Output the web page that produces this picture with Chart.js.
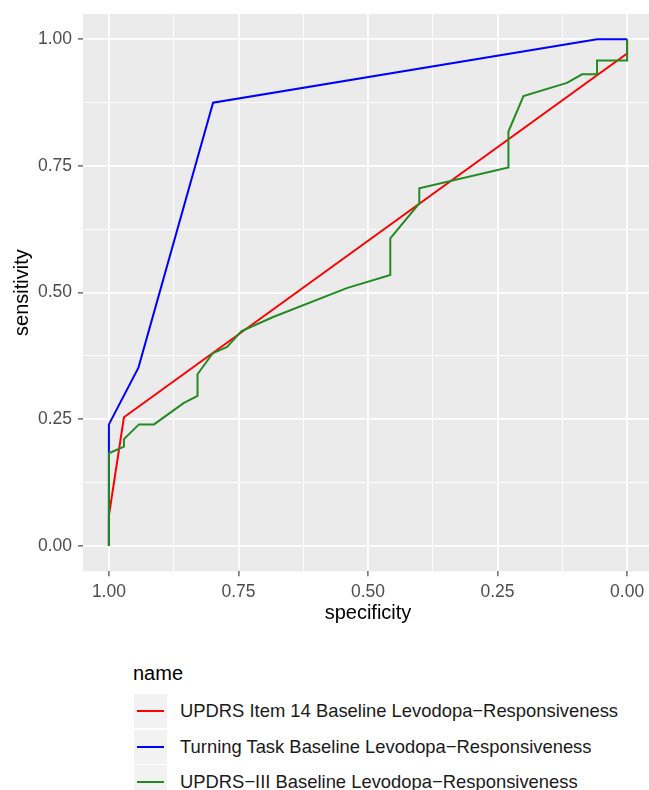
<!DOCTYPE html>
<html>
<head>
<meta charset="utf-8">
<script src="https://cdn.jsdelivr.net/npm/chart.js@4.4.1/dist/chart.umd.min.js"></script>
<style>
  html, body { margin: 0; padding: 0; background: #fff; overflow: hidden; }
  #wrap { position: relative; width: 649px; height: 790px; overflow: hidden; }
  #rocChart { position: absolute; left: 0; top: 0; }
  #legend { position: absolute; left: 0; top: 0; font-family: "Liberation Sans", Arial, sans-serif; }
  .lg-title { position: absolute; left: 133px; top: 661px; font-size: 20px; line-height: 24px; color: #000; }
  .lg-key { position: absolute; left: 134px; width: 33px; height: 34px; background: #f2f2f2; }
  .lg-key span { position: absolute; left: 3px; right: 3px; top: 16px; height: 2px; }
  .lg-text { position: absolute; left: 180px; font-size: 18.4px; line-height: 34px; color: #1a1a1a; white-space: nowrap; }
</style>
</head>
<body>
<div id="wrap">
  <canvas id="rocChart" width="653" height="640"></canvas>
  <div id="legend"></div>
</div>
<script>
// series names (legend order) and colours
const seriesNames = [
  'UPDRS Item 14 Baseline Levodopa\u2212Responsiveness',
  'Turning Task Baseline Levodopa\u2212Responsiveness',
  'UPDRS\u2212III Baseline Levodopa\u2212Responsiveness'
];
const seriesColors = ['#ff0000', '#0000ff', '#228b22'];

// ROC points: specificity / sensitivity
const item14Spec = [1, 1, 0.971, 0, 0];
const item14Sens = [0, 0.06, 0.254, 0.972, 1];

const turningSpec = [1, 1, 0.943, 0.799, 0.058, 0];
const turningSens = [0, 0.24, 0.352, 0.875, 1, 1];

const updrs3Spec = [1, 1, 0.971, 0.971, 0.942, 0.913, 0.856, 0.829, 0.829, 0.800, 0.772, 0.744, 0.683,
  0.541, 0.457, 0.457, 0.401, 0.401, 0.229, 0.229, 0.200, 0.116, 0.087, 0.058, 0.058, 0, 0];
const updrs3Sens = [0, 0.183, 0.196, 0.211, 0.240, 0.240, 0.282, 0.296, 0.339, 0.380, 0.393, 0.424, 0.452,
  0.509, 0.535, 0.607, 0.676, 0.706, 0.747, 0.818, 0.888, 0.914, 0.931, 0.931, 0.958, 0.958, 1];

// axis ticks
const majorTicks = [0, 0.25, 0.5, 0.75, 1];
const minorTicks = [0.125, 0.375, 0.625, 0.875];

function toPoints(xs, ys) {
  return xs.map((x, i) => ({ x: x, y: ys[i] }));
}

function ggTicks(scale) {
  const t = majorTicks.map(v => ({ value: v }))
    .concat(minorTicks.map(v => ({ value: v, minor: true })));
  t.sort((a, b) => a.value - b.value);
  scale.ticks = t;
}

const FONT = '"Liberation Sans", Arial, sans-serif';

// grey panel behind the grid
const panelBg = {
  id: 'panelBg',
  beforeDraw(chart) {
    const a = chart.chartArea;
    const c = chart.ctx;
    c.save();
    c.fillStyle = '#ebebeb';
    c.fillRect(a.left, a.top, a.right - a.left, a.bottom - a.top);
    c.restore();
  }
};

const gridOpts = {
  color: '#ffffff',
  lineWidth: c => (c.tick && c.tick.minor ? 0.9 : 1.8),
  tickColor: c => (c.tick && c.tick.minor ? 'rgba(0,0,0,0)' : '#333333'),
  tickWidth: 1.1,
  tickLength: 5
};

const ctx = document.getElementById('rocChart').getContext('2d');

const lines = [
  { data: toPoints(item14Spec, item14Sens), order: 2 },
  { data: toPoints(turningSpec, turningSens), order: 1 },
  { data: toPoints(updrs3Spec, updrs3Sens), order: 0 }
];

const chart = new Chart(ctx, {
  type: 'line',
  data: {
    datasets: lines.map((d, i) => ({
      label: seriesNames[i],
      data: d.data,
      order: d.order,
      borderColor: seriesColors[i],
      borderWidth: 2,
      tension: 0,
      fill: false,
      pointRadius: 0,
      pointHoverRadius: 0
    }))
  },
  options: {
    responsive: false,
    animation: false,
    devicePixelRatio: 1,
    layout: { padding: { top: 14, left: 0, right: 0, bottom: 0 } },
    plugins: { legend: { display: false }, tooltip: { enabled: false } },
    scales: {
      x: {
        type: 'linear',
        reverse: true,
        min: -0.05,
        max: 1.05,
        afterBuildTicks: ggTicks,
        afterFit: s => { s.height = 68.7; s.paddingLeft = 0; s.paddingRight = 0; },
        border: { display: false },
        grid: gridOpts,
        ticks: {
          padding: 5,
          maxRotation: 0,
          autoSkip: false,
          color: '#4d4d4d',
          font: { family: FONT, size: 17.5 },
          callback: (v, i, t) => (t[i].minor ? '' : v.toFixed(2))
        },
        title: {
          display: true,
          text: 'specificity',
          color: '#000',
          font: { family: FONT, size: 20 },
          padding: { top: 0, bottom: 14.7 }
        }
      },
      y: {
        type: 'linear',
        min: -0.05,
        max: 1.05,
        afterBuildTicks: ggTicks,
        afterFit: s => { s.width = 83; s.paddingTop = 0; s.paddingBottom = 0; },
        border: { display: false },
        grid: gridOpts,
        ticks: {
          padding: 6,
          autoSkip: false,
          color: '#4d4d4d',
          font: { family: FONT, size: 17.5 },
          callback: (v, i, t) => (t[i].minor ? '' : v.toFixed(2))
        },
        title: {
          display: true,
          text: 'sensitivity',
          color: '#000',
          font: { family: FONT, size: 20 },
          padding: { top: 10, bottom: 0 }
        }
      }
    }
  },
  plugins: [panelBg]
});

// ggplot-style legend underneath, built from the chart's datasets
const legend = document.getElementById('legend');
const title = document.createElement('div');
title.className = 'lg-title';
title.textContent = 'name';
legend.appendChild(title);
chart.data.datasets.forEach((ds, i) => {
  const top = 694 + i * 35.5;
  const key = document.createElement('div');
  key.className = 'lg-key';
  key.style.top = top + 'px';
  const ln = document.createElement('span');
  ln.style.background = ds.borderColor;
  key.appendChild(ln);
  legend.appendChild(key);
  const txt = document.createElement('div');
  txt.className = 'lg-text';
  txt.style.top = top + 'px';
  txt.textContent = ds.label;
  legend.appendChild(txt);
});
</script>
</body>
</html>
